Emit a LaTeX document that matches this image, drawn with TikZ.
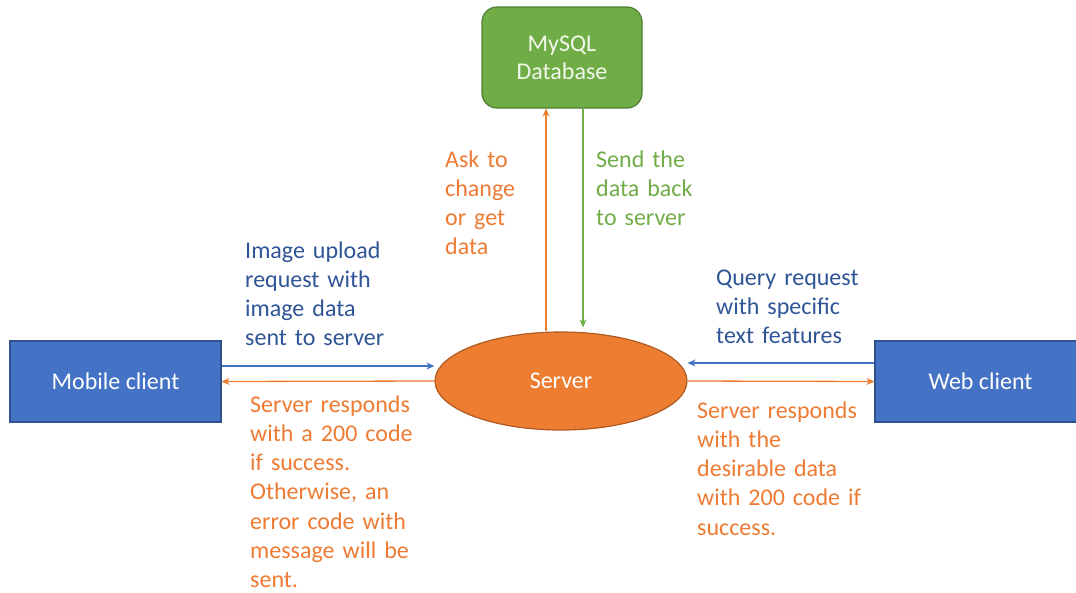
\documentclass[tikz,border=0pt]{standalone}
\usepackage{fontspec}
\setmainfont{Carlito}
\usetikzlibrary{shapes.geometric,arrows.meta,calc}
\definecolor{cblue}{HTML}{4472C4}
\definecolor{cblueb}{HTML}{2F528F}
\definecolor{cbluet}{HTML}{2F5597}
\definecolor{corange}{HTML}{ED7D31}
\definecolor{coranget}{HTML}{EE7B33}
\definecolor{corangeb}{HTML}{AE5A21}
\definecolor{cgreen}{HTML}{70AD47}
\definecolor{cgreenb}{HTML}{507E32}
\definecolor{cdbtext}{HTML}{F2F8EC}
\begin{document}
\begin{tikzpicture}[x=1pt,y=-1pt,
  txt/.style={font=\fontsize{24}{29.3}\selectfont},
  client/.style={rectangle,draw=cblueb,line width=1.2pt,fill=cblue,text=white,
    minimum width=211pt,minimum height=81pt,inner sep=0pt,txt},
  lbl/.style={anchor=base west,text width=220pt,align=left,inner sep=0pt,txt},
  arr/.style={line width=1.3pt,-{Stealth[length=8pt,width=7pt]}}
]
\useasboundingbox (0,0) rectangle (1076,592);
\fill[white] (0,0) rectangle (1076,592);

\node[client] (mobile) at (115.5,381.5) {Mobile client};
\node[client] (web) at (980.5,381.5) {Web client};
\node[ellipse,draw=corangeb,line width=1.2pt,fill=corange,text=white,
  minimum width=252pt,minimum height=98pt,inner sep=0pt,txt] (server) at (561,381) {Server};
\node[rectangle,rounded corners=15pt,draw=cgreenb,line width=1.2pt,fill=cgreen,text=cdbtext,
  minimum width=160pt,minimum height=101pt,align=center,inner sep=0pt,
  font=\fontsize{24}{28}\selectfont] (db) at (562,57.5) {MySQL\\Database};

% mobile <-> server
\draw[arr,draw=cblue] ($(mobile.east)+(0,-15.5)$) -- ($(server.west)+(0,-15)$);
\draw[arr,draw=corange] (server.west) -- (mobile.east);
% web <-> server
\draw[arr,draw=cblue] ($(web.west)+(0,-18.5)$) -- ($(server.east)+(0,-18)$);
\draw[arr,draw=corange] (server.east) -- (web.west);
% server <-> db
\draw[arr,draw=corange] ($(server.north)+(-15,0)$) -- ($(db.south)+(-16,0)$);
\draw[arr,draw=cgreen] ($(db.south)+(21,0)$) -- ($(server.north)+(22,-4)$);

\node[lbl,text=cbluet] (l1) at (245,258) {Image upload\\request with\\image data\\sent to server};
\node[lbl,text=coranget] (l2) at (250,412) {Server responds\\with a 200 code\\if success.\\Otherwise, an\\error code with\\message will be\\sent.};
\node[lbl,text=coranget] (l3) at (445,167) {Ask to\\change\\or get\\data};
\node[lbl,text=cgreen] (l4) at (596,167) {Send the\\data back\\to server};
\node[lbl,text=cbluet] (l5) at (716,285) {Query request\\with specific\\text features};
\node[lbl,text=coranget] (l6) at (697,418) {Server responds\\with the\\desirable data\\with 200 code if\\success.};
\end{tikzpicture}
\end{document}
